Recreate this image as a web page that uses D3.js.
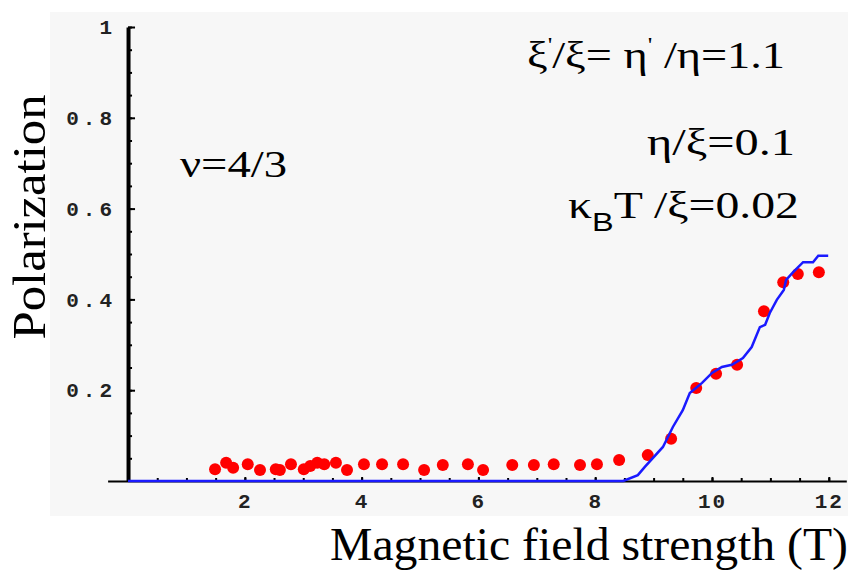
<!DOCTYPE html>
<html lang="en-US">
  <head>
    <meta charset="utf-8" />
    <script src="https://d3js.org/d3.v7.min.js"></script>
    <style>
      body { margin: 0; background: #ffffff; }
      .tick text { font-family: "Liberation Mono", monospace; }
    </style>
    <title>Polarization</title>
  </head>
  <body>
    <div id="chart"></div>
    <script>
      // measured points (red)
      var fieldX = [1.49, 1.68, 1.80, 2.05, 2.26, 2.53, 2.60, 2.79, 3.01, 3.12, 3.24, 3.36, 3.56, 3.75,
        4.04, 4.35, 4.71, 5.07, 5.39, 5.82, 6.08, 6.58, 6.95, 7.29, 7.74, 8.03, 8.41, 8.90,
        9.30, 9.73, 10.07, 10.43, 10.89, 11.22, 11.47, 11.83];
      var polarization = [0.026, 0.040, 0.029, 0.037, 0.024, 0.026, 0.024, 0.037, 0.026, 0.033, 0.040, 0.037, 0.040, 0.024,
        0.037, 0.037, 0.037, 0.024, 0.035, 0.037, 0.024, 0.035, 0.035, 0.037, 0.035, 0.037, 0.046, 0.057,
        0.093, 0.205, 0.236, 0.256, 0.374, 0.438, 0.456, 0.460];

      // theory curve (blue)
      var fitX = [0, 8.48, 8.73, 8.85, 8.99, 9.16, 9.33, 9.50, 9.62, 9.83, 10.0, 10.17, 10.34, 10.53,
        10.68, 10.82, 10.91, 10.99, 11.11, 11.23, 11.27, 11.39, 11.56, 11.73, 11.82, 11.99];
      var fitY = [0, 0, 0.013, 0.031, 0.051, 0.075, 0.119, 0.156, 0.194, 0.216, 0.238, 0.251, 0.256, 0.271,
        0.295, 0.339, 0.344, 0.370, 0.399, 0.421, 0.443, 0.460, 0.482, 0.482, 0.496, 0.496];

      var xTicks = [2, 4, 6, 8, 10, 12];
      var xTickLabels = ["2", "4", "6", "8", "10", "12"];
      var yTicks = [0.2, 0.4, 0.6, 0.8, 1];
      var yTickLabels = ["0.2", "0.4", "0.6", "0.8", "1"];

      var width = 853;
      var height = 571;
      var serif = "'Liberation Serif', 'Times New Roman', serif";

      var svg = d3
        .select("#chart")
        .append("svg")
        .attr("width", width)
        .attr("height", height);

      // gray plot background
      svg.append("rect")
        .attr("x", 50)
        .attr("y", 12)
        .attr("width", 798)
        .attr("height", 504)
        .attr("fill", "#f7f7f7");

      var x = d3.scaleLinear().domain([-0.35, 12.3]).range([107.6, 846.3]);
      var y = d3.scaleLinear().domain([0, 1]).range([481, 27]);

      // minor ticks
      svg.append("g")
        .attr("transform", "translate(" + x(0) + ",0)")
        .call(d3.axisLeft(y).tickValues(d3.range(0.05, 1.001, 0.05)).tickSize(-4).tickFormat(""))
        .call(g => g.select(".domain").remove())
        .selectAll("line").attr("stroke-width", 2);

      svg.append("g")
        .attr("transform", "translate(0," + y(0) + ")")
        .call(d3.axisBottom(x).tickValues(d3.range(0.5, 12.01, 0.5)).tickSize(-3).tickFormat(""))
        .call(g => g.select(".domain").remove())
        .selectAll("line").attr("stroke-width", 2);

      // x axis
      var xAxis = svg.append("g")
        .attr("transform", "translate(0," + y(0) + ")")
        .call(d3.axisBottom(x).tickValues(xTicks).tickSize(-4).tickSizeOuter(0).tickPadding(12)
          .tickFormat((d, i) => xTickLabels[i]));
      xAxis.select(".domain").attr("stroke-width", 2);
      xAxis.selectAll("line").attr("stroke-width", 2);
      xAxis.selectAll("text")
        .attr("font-size", 21)
        .attr("font-weight", "bold")
        .attr("letter-spacing", 2)
        .attr("fill", "#222");

      // y axis
      var yAxis = svg.append("g")
        .attr("transform", "translate(" + x(0) + ",0)")
        .call(d3.axisLeft(y).tickValues(yTicks).tickSize(-7).tickSizeOuter(0).tickPadding(12)
          .tickFormat((d, i) => yTickLabels[i]));
      yAxis.select(".domain").attr("stroke-width", 4);
      yAxis.selectAll("line").attr("stroke-width", 2);
      yAxis.selectAll("text")
        .attr("font-size", 21)
        .attr("font-weight", "bold")
        .attr("letter-spacing", 4)
        .attr("fill", "#222");

      // data points
      svg.append("g")
        .selectAll("circle")
        .data(fieldX)
        .enter()
        .append("circle")
        .attr("cx", d => x(d))
        .attr("cy", (d, i) => y(polarization[i]))
        .attr("r", 6)
        .attr("fill", "#ff0000");

      // curve
      var line = d3.line()
        .x(d => x(d))
        .y((d, i) => y(fitY[i]));

      svg.append("path")
        .datum(fitX)
        .attr("d", line)
        .attr("fill", "none")
        .attr("stroke", "#1a1aff")
        .attr("stroke-width", 2.5);

      // axis titles
      svg.append("text")
        .attr("transform", "translate(45,217) rotate(-90)")
        .attr("text-anchor", "middle")
        .attr("font-family", serif)
        .attr("font-size", 47)
        .attr("textLength", 245)
        .attr("lengthAdjust", "spacingAndGlyphs")
        .text("Polarization");

      svg.append("text")
        .attr("x", 330)
        .attr("y", 560)
        .attr("font-family", serif)
        .attr("font-size", 47)
        .attr("textLength", 518)
        .attr("lengthAdjust", "spacingAndGlyphs")
        .text("Magnetic field strength (T)");

      // annotations: each piece is [text, kind] where kind is "", "sup" or "sub"
      function richText(xPos, yPos, len, size, parts) {
        var t = svg.append("text")
          .attr("x", xPos)
          .attr("y", yPos)
          .attr("font-size", size)
          .attr("font-family", serif)
          .attr("textLength", len)
          .attr("lengthAdjust", "spacingAndGlyphs");
        var shift = 0;
        parts.forEach(function (p) {
          var target = p[1] === "sup" ? -size * 0.42 : p[1] === "sub" ? size * 0.34 : 0;
          var s = t.append("tspan").text(p[0]).attr("dy", target - shift);
          shift = target;
          if (p[1] === "sup") s.attr("font-size", size * 0.55);
          if (p[1] === "sub") s.attr("font-size", size * 0.68).attr("font-family", "'Liberation Sans', sans-serif");
        });
        return t;
      }

      richText(180, 177, 107, 38, [["ν=4/3", ""]]);
      richText(527, 68, 258, 37, [["ξ", ""], ["'", "sup"], ["/ξ= η", ""], ["'", "sup"], [" /η=1.1", ""]]);
      richText(647, 155, 148, 37, [["η/ξ=0.1", ""]]);
      richText(568, 218, 231, 37, [["κ", ""], ["B", "sub"], ["T /ξ=0.02", ""]]);
    </script>
  </body>
</html>
